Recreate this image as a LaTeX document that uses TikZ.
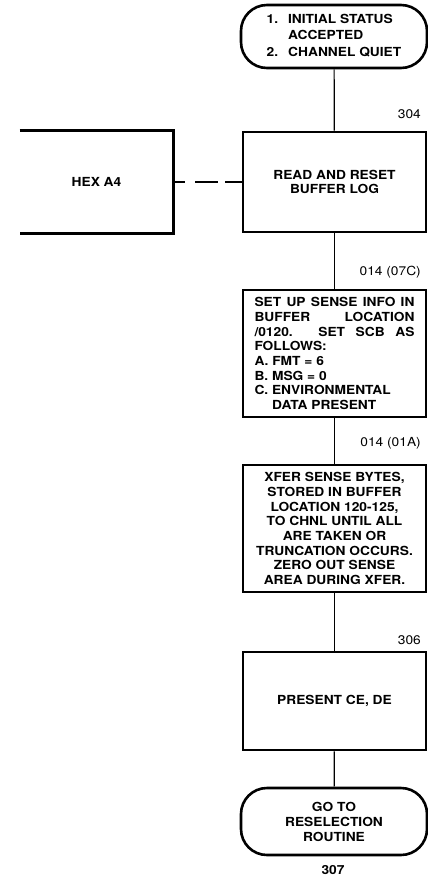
\documentclass[tikz,border=0pt]{standalone}
\usepackage{fontspec}
\setmainfont{TeX Gyre Heros}[FakeStretch=1.1]
\usetikzlibrary{positioning}

\begin{document}
\begin{tikzpicture}[x=1pt, y=-1pt,
    terminal/.style={rectangle, draw, line width=2.6pt, rounded corners=26pt, minimum width=186pt, align=center, inner sep=0pt, font=\bfseries\fontsize{12.5}{15}\selectfont},
    process/.style={rectangle, draw, line width=2.6pt, minimum width=183pt, align=center, inner sep=0pt, font=\bfseries\fontsize{12.5}{14.7}\selectfont},
    link/.style={line width=1.2pt},
    numlabel/.style={font=\fontsize{12.5}{14}\selectfont, anchor=east, inner sep=0pt},
]

\useasboundingbox (0,0) rectangle (428,879);

\node[terminal, minimum height=63pt] (start) at (334,36.5) {\def\arraystretch{1.1}\begin{tabular}{@{}l@{\hspace{10pt}}l@{}}1. & INITIAL STATUS\\ & ACCEPTED\\ 2. & CHANNEL QUIET\end{tabular}};
\node[process, minimum height=100pt] (read) at (334.5,182) {READ AND RESET\\BUFFER LOG};
\node[process, draw=none, minimum width=151pt, minimum height=100pt] (hex) at (96.5,182) {HEX A4};
\node[process, minimum height=127pt, text width=160pt, align=justify] (setup) at (334.5,353.5) {SET UP SENSE INFO IN\linebreak BUFFER LOCATION\linebreak /0120. SET SCB AS\linebreak FOLLOWS:\\A. FMT = 6\\B. MSG = 0\\C. ENVIRONMENTAL\\\phantom{C. }DATA PRESENT};
\node[process, minimum height=127pt] (xfer) at (334.5,528.5) {XFER SENSE BYTES,\\STORED IN BUFFER\\LOCATION 120-125,\\TO CHNL UNTIL ALL\\ARE TAKEN OR\\TRUNCATION OCCURS.\\ZERO OUT SENSE\\AREA DURING XFER.};
\node[process, minimum height=98pt] (present) at (334.5,701) {PRESENT CE, DE};
\node[terminal, minimum height=67pt] (goto) at (334,821.5) {GO TO\\RESELECTION\\ROUTINE};

\node[numlabel] (n304) at (421,114) {304};
\node[numlabel] (n07c) at (421,272) {014 (07C)};
\node[numlabel] (n01a) at (421,443) {014 (01A)};
\node[numlabel] (n306) at (421,640) {306};
\node[numlabel, anchor=center, font=\bfseries\fontsize{12.5}{14}\selectfont] (n307) at (333,870) {307};

\draw[line width=2.6pt] (hex.north west) -- (hex.north east) -- (hex.south east) -- (hex.south west);
\draw[link, dash pattern=on 12pt off 10pt on 23pt off 7pt on 20pt] (hex.east) -- (read.west);

\draw[link] (start) -- (read);
\draw[link] (read) -- (setup);
\draw[link] (setup) -- (xfer);
\draw[link] (xfer) -- (present);
\draw[link] (present) -- (goto);

\end{tikzpicture}
\end{document}
